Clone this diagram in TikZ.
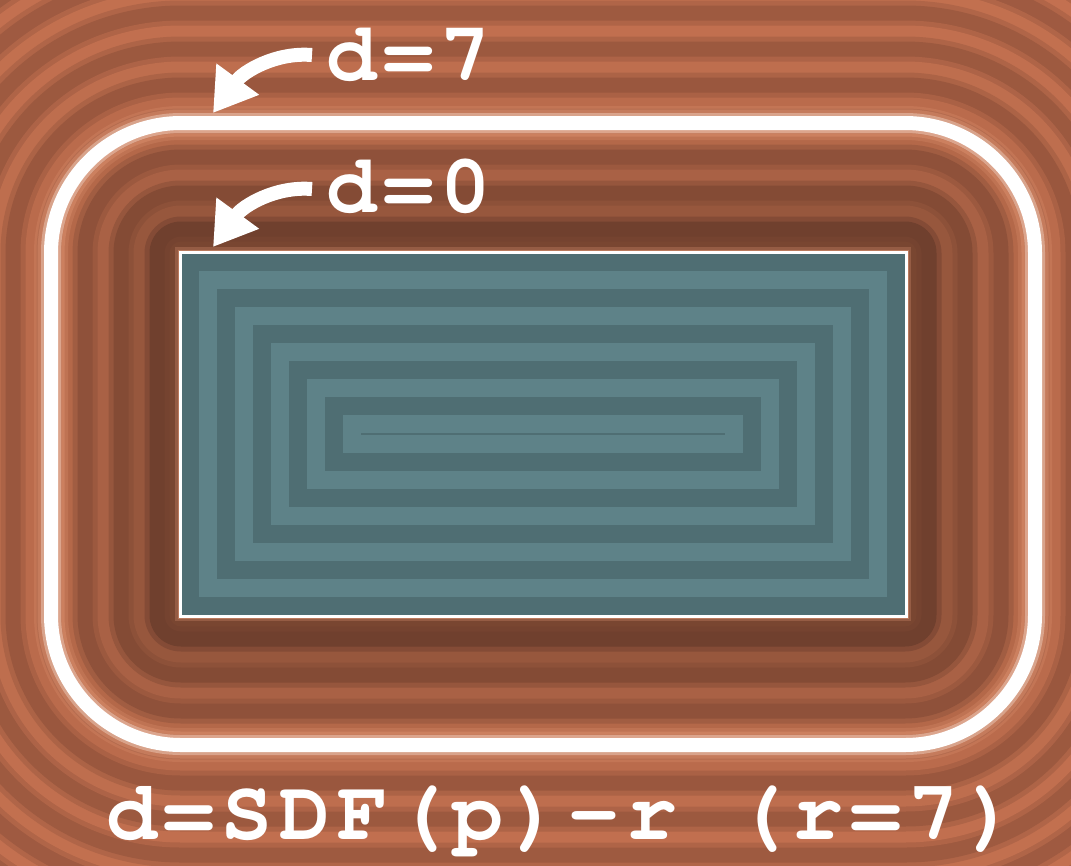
\documentclass[tikz,border=0pt]{standalone}
\usepackage{fontspec}
\usetikzlibrary{arrows.meta}
\newfontfamily\labelfont[LetterSpace=8]{texgyrecursor-bold.otf}
\definecolor{olight}{RGB}{196,113,80}
\definecolor{odark}{RGB}{160,91,65}
\definecolor{tlight}{RGB}{94,130,136}
\definecolor{tdark}{RGB}{79,110,115}
\definecolor{glowc}{RGB}{235,160,125}
\newcommand\offsetfill[2]{%
  \pgfmathsetmacro\od{#2}%
  \fill[#1, rounded corners=\od pt] (181-\od,253-\od) rectangle (905+\od,615+\od);}
\begin{document}
\begin{tikzpicture}[x=1pt,y=-1pt,
  lbl/.style={text=white, font=\labelfont\fontsize{84}{84}\selectfont, inner sep=0pt, anchor=base west},
  formulafont/.style={font=\labelfont\fontsize{85}{85}\selectfont},
  bigarrow/.style={white, line width=14pt, -{Triangle[length=42pt,width=50pt]}},
  contour/.style={rounded corners=130pt}]
\useasboundingbox (0,0) rectangle (1071,865);
\clip (0,0) rectangle (1071,865);
% outside field
\fill[odark] (0,0) rectangle (1071,865);
\foreach \k in {8,7,...,0}{
  \pgfmathsetmacro\pdo{100*(1-0.42*exp(-(60+36*\k)/70))}
  \pgfmathsetmacro\pl{100*(1-0.42*exp(-(42+36*\k)/70))}
  \pgfmathsetmacro\pd{100*(1-0.42*exp(-(24+36*\k)/70))}
  \colorlet{cdo}{odark!\pdo!black}
  \colorlet{cl}{olight!\pl!black}
  \colorlet{cd}{odark!\pd!black}
  \pgfmathsetmacro\dl{50+36*\k}
  \offsetfill{cl!50!cdo}{\dl+2.5}
  \offsetfill{cl}{\dl-2.5}
  \pgfmathsetmacro\dd{34+36*\k}
  \offsetfill{cd!50!cl}{\dd+2.5}
  \offsetfill{cd}{\dd-2.5}
}
\pgfmathsetmacro\pn{100*(1-0.42*exp(-7/70))}
\pgfmathsetmacro\pdz{100*(1-0.42*exp(-24/70))}
\colorlet{cn}{olight!\pn!black}
\colorlet{cdz}{odark!\pdz!black}
\offsetfill{cn!50!cdz}{16.5}
\offsetfill{cn}{11.5}
% glow around the rectangle
\draw[glowc, opacity=0.25, line width=12pt] (181,253) rectangle (905,615);
\draw[glowc, opacity=0.45, line width=7pt] (181,253) rectangle (905,615);
% inside field
\foreach \j in {0,2,4,6,8}{
  \pgfmathsetmacro\ia{18*\j}
  \fill[tdark] (181+\ia,253+\ia) rectangle (905-\ia,615-\ia);
  \pgfmathsetmacro\ib{18*(\j+1)}
  \fill[tlight] (181+\ib,253+\ib) rectangle (905-\ib,615-\ib);
}
\fill[tdark] (361,433) rectangle (725,435);
\draw[white, line width=3pt] (180,252) rectangle (906,616);
% contour d = 7
\draw[glowc, opacity=0.2, line width=34pt, contour] (51,123) rectangle (1035,745);
\draw[glowc, opacity=0.3, line width=27pt, contour] (51,123) rectangle (1035,745);
\draw[glowc!50!white, opacity=0.5, line width=20pt, contour] (51,123) rectangle (1035,745);
\draw[white, line width=14pt, contour] (51,123) rectangle (1035,745);
% labels
\node[lbl] (lab7) at (326,80) {d=7};
\node[lbl] (lab0) at (326,212) {d=0};
\node[lbl, formulafont] (formula) at (106,839) {d=SDF(p)-r (r=7)};
% arrows
\coordinate (t7) at (312,55);
\coordinate (h7) at (213,113);
\coordinate (t0) at (312,189);
\coordinate (h0) at (213,247);
\draw[bigarrow] (t7) .. controls (275,52) and (243,72) .. (h7);
\draw[bigarrow] (t0) .. controls (275,186) and (243,206) .. (h0);
\end{tikzpicture}
\end{document}
